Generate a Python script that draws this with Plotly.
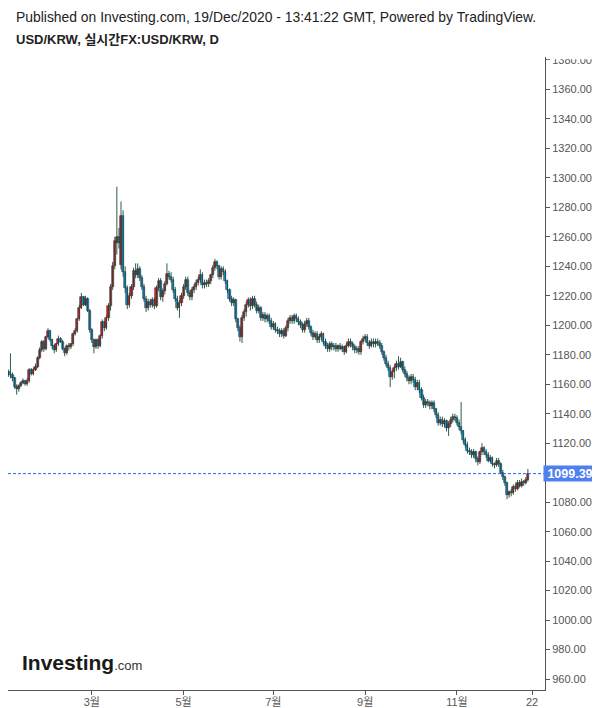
import pandas as pd
import plotly.graph_objects as go

# ---- data: USD/KRW daily candles, 6 Jan 2020 .. 18 Dec 2020 (weekdays) ----
dates = pd.bdate_range("2020-01-06", "2020-12-18")

opens = [
    1166,1168,1166,1164,1158, 1157,1159,1161,1162,1160, 1162,1170,1167,1170,1172, 1178,1183,1189,1184,1192,
    1196,1190,1186,1183,1187, 1191,1189,1184,1181,1186, 1185,1187,1194,1196,1204, 1212,1219,1214,1218,1210,
    1197,1190,1185,1190,1186, 1193,1202,1198,1205,1213, 1226,1240,1256,1260,1241, 1274,1236,1225,1214,1220,
    1226,1237,1234,1238,1232, 1226,1218,1212,1216,1214, 1217,1213,1225,1230,1219, 1223,1228,1235,1233,1231,
    1224,1218,1212,1215,1220, 1226,1231,1222,1219,1224, 1226,1229,1231,1234,1227, 1229,1228,1230,1234,1239,
    1243,1240,1233,1238,1236, 1230,1224,1218,1215,1217, 1204,1198,1192,1205,1209, 1214,1217,1213,1218,1214,
    1210,1212,1205,1207,1204, 1206,1203,1199,1201,1197, 1196,1194,1196,1193,1198, 1203,1205,1203,1206,1204,
    1202,1200,1197,1201,1203, 1199,1195,1192,1194,1190, 1192,1194,1189,1186,1184, 1187,1185,1186,1184,1186,
    1184,1185,1182,1186,1189, 1187,1185,1183,1184,1182, 1189,1191,1192,1188,1186, 1189,1187,1189,1188,1186,
    1182,1178,1174,1171,1165, 1168,1171,1174,1172,1175, 1170,1167,1164,1162,1165, 1163,1158,1161,1156,1151,
    1146,1148,1147,1145,1147, 1143,1139,1134,1136,1133, 1135,1130,1133,1136,1138, 1137,1134,1131,1128,1122,
    1119,1115,1114,1112,1114, 1109,1107,1114,1117,1114, 1112,1108,1110,1106,1105, 1108,1106,1100,1097,1093,
    1085,1087,1086,1090,1089, 1093,1091,1094,1093,1095,
]
highs = [
    1170,1181,1168,1165,1160, 1160,1162,1164,1163,1164, 1171,1171,1171,1174,1179, 1185,1190,1190,1193,1198,
    1197,1191,1187,1188,1193, 1192,1190,1185,1187,1188, 1188,1195,1198,1205,1214, 1222,1220,1220,1219,1211,
    1198,1191,1191,1191,1194, 1204,1203,1207,1215,1228, 1243,1260,1294,1266,1284, 1278,1240,1227,1222,1228,
    1239,1242,1242,1240,1234, 1228,1220,1218,1218,1219, 1219,1227,1232,1232,1225, 1230,1242,1237,1236,1233,
    1226,1220,1217,1222,1228, 1233,1233,1224,1226,1228, 1231,1233,1238,1236,1231, 1231,1232,1235,1241,1245,
    1244,1241,1240,1240,1238, 1231,1225,1220,1219,1218, 1205,1200,1207,1211,1216, 1219,1219,1220,1220,1216,
    1214,1213,1209,1209,1208, 1208,1205,1203,1202,1199, 1198,1198,1198,1200,1205, 1207,1207,1208,1208,1206,
    1204,1202,1203,1205,1205, 1200,1197,1196,1196,1194, 1196,1195,1191,1188,1189, 1189,1188,1188,1187,1188,
    1187,1186,1188,1191,1191, 1189,1187,1186,1186,1190, 1193,1194,1194,1190,1191, 1191,1191,1191,1190,1188,
    1183,1180,1176,1173,1170, 1173,1176,1179,1178,1176, 1172,1169,1166,1167,1167, 1165,1163,1163,1158,1153,
    1150,1150,1149,1149,1149, 1144,1141,1138,1138,1137, 1136,1135,1138,1140,1140, 1139,1136,1148,1129,1124,
    1121,1117,1116,1116,1115, 1111,1115,1120,1118,1116, 1114,1112,1111,1107,1110, 1110,1107,1102,1098,1094,
    1088,1089,1092,1092,1095, 1095,1096,1095,1097,1102.5,
]
lows = [
    1165,1164,1162,1157,1153, 1155,1158,1160,1159,1159, 1161,1166,1166,1169,1171, 1177,1182,1182,1183,1191,
    1189,1184,1181,1182,1186, 1188,1183,1179,1180,1183, 1184,1186,1193,1195,1203, 1211,1213,1213,1209,1195,
    1188,1181,1184,1184,1185, 1191,1196,1197,1203,1210, 1224,1238,1248,1252,1238, 1233,1222,1211,1212,1218,
    1224,1232,1232,1230,1224, 1216,1209,1210,1212,1212, 1211,1212,1223,1217,1216, 1221,1227,1231,1229,1222,
    1216,1210,1205,1213,1218, 1224,1220,1217,1217,1222, 1224,1227,1229,1225,1225, 1226,1226,1228,1232,1237,
    1238,1231,1231,1234,1228, 1222,1216,1213,1213,1202, 1196,1189,1188,1203,1206, 1212,1210,1211,1212,1208,
    1208,1203,1203,1202,1202, 1201,1197,1197,1195,1194, 1192,1192,1191,1192,1196, 1201,1201,1201,1202,1200,
    1198,1195,1195,1199,1197, 1193,1190,1191,1188,1188, 1190,1187,1184,1182,1182, 1183,1183,1182,1182,1183,
    1182,1180,1181,1185,1185, 1183,1181,1181,1180,1180, 1187,1189,1186,1184,1185, 1185,1185,1186,1184,1180,
    1176,1172,1169,1158,1163, 1164,1169,1170,1171,1168, 1165,1162,1160,1160,1161, 1156,1156,1154,1149,1144,
    1144,1145,1143,1143,1141, 1137,1132,1132,1131,1131, 1128,1125,1131,1134,1135, 1132,1129,1126,1120,1117,
    1113,1112,1110,1110,1107, 1105,1106,1112,1112,1110, 1107,1107,1104,1103,1104, 1104,1099,1095,1091,1082,
    1083,1084,1085,1087,1088, 1090,1090,1091,1092,1094,
]
closes = [
    1168,1166,1164,1158,1157, 1159,1161,1162,1160,1162, 1170,1167,1170,1172,1178, 1183,1189,1184,1192,1196,
    1190,1186,1183,1187,1191, 1189,1184,1181,1186,1185, 1187,1194,1196,1204,1212, 1219,1214,1218,1210,1197,
    1190,1185,1190,1186,1193, 1202,1198,1205,1213,1226, 1240,1257,1260,1256,1274, 1236,1225,1214,1220,1226,
    1237,1234,1238,1232,1226, 1218,1212,1216,1214,1217, 1213,1225,1230,1219,1223, 1228,1235,1233,1231,1224,
    1218,1212,1215,1220,1226, 1231,1222,1219,1224,1226, 1229,1231,1234,1227,1229, 1228,1230,1234,1239,1243,
    1240,1233,1238,1236,1230, 1224,1218,1215,1217,1204, 1198,1192,1205,1209,1214, 1217,1213,1218,1214,1210,
    1212,1205,1207,1204,1206, 1203,1199,1201,1197,1196, 1194,1196,1193,1198,1203, 1205,1203,1206,1204,1202,
    1200,1197,1201,1203,1199, 1195,1192,1194,1190,1192, 1194,1189,1186,1184,1187, 1185,1186,1184,1186,1184,
    1185,1182,1186,1189,1187, 1185,1183,1184,1182,1189, 1191,1192,1188,1186,1189, 1187,1189,1188,1186,1182,
    1178,1174,1171,1165,1168, 1171,1174,1172,1175,1170, 1167,1164,1162,1165,1163, 1158,1161,1156,1151,1146,
    1148,1147,1145,1147,1143, 1139,1134,1136,1133,1135, 1130,1133,1136,1138,1137, 1134,1131,1128,1122,1119,
    1115,1114,1112,1114,1109, 1107,1114,1117,1114,1112, 1108,1110,1106,1105,1108, 1106,1100,1097,1093,1085,
    1087,1086,1090,1089,1093, 1091,1094,1093,1095,1099.39,
]

last_price = closes[-1]
tick_dates = ["2020-03-02", "2020-05-01", "2020-07-01", "2020-09-01", "2020-11-02", "2020-12-22"]
tick_text = ["3월", "5월", "7월", "9월", "11월", "22"]
# 1100.00 sits under the last-price tag, so it is left out
y_ticks = [960, 980, 1000, 1020, 1040, 1060, 1080, 1120, 1140, 1160, 1180, 1200, 1220,
           1240, 1260, 1280, 1300, 1320, 1340, 1360, 1380]

# bar positions: index of each trading day on a continuous (weekend-free) scale
all_days = pd.bdate_range("2020-01-06", "2020-12-31")
pos = {d: i for i, d in enumerate(all_days)}
xs = [pos[d] for d in dates]
tick_pos = [pos[pd.Timestamp(t)] for t in tick_dates]

FONT = "Liberation Sans, Arial, Noto Sans CJK KR, sans-serif"
UP, DOWN, EDGE, WICK = "#ff1010", "#119cff", "#22304a", "#184a2e"

# wicks (thin green lines behind the bodies)
wx, wy = [], []
for x, h, l in zip(xs, highs, lows):
    wx += [x, x, None]
    wy += [l, h, None]

body_base = [min(o, c) for o, c in zip(opens, closes)]
body_len = [abs(c - o) for o, c in zip(opens, closes)]
body_col = [UP if c >= o else DOWN for o, c in zip(opens, closes)]

fig = go.Figure()
fig.add_trace(go.Scatter(x=wx, y=wy, mode="lines", line=dict(color=WICK, width=0.9),
                         hoverinfo="skip", showlegend=False))
fig.add_trace(go.Bar(x=xs, y=body_len, base=body_base, width=1.0,
                     marker=dict(color=body_col, line=dict(color=EDGE, width=0.6)),
                     showlegend=False))

fig.add_shape(type="line", xref="paper", x0=0, x1=1, yref="y", y0=last_price, y1=last_price,
              line=dict(color="#2563ff", width=1, dash="3px,2px"), layer="above")
# mask the top label half, as clipped in the reference
fig.add_shape(type="rect", xref="paper", x0=1.004, x1=1.12, yref="paper", y0=0.9965, y1=1.08,
              fillcolor="white", line=dict(width=0), layer="above")

fig.add_annotation(x=1, xref="paper", xanchor="left", xshift=-2, y=last_price, yref="y", yanchor="middle",
                   text="<b>%.2f</b>" % last_price, showarrow=False,
                   font=dict(family=FONT, size=12.5, color="white"),
                   bgcolor="#4f80f0", borderpad=1, width=50, height=13, align="center")

fig.add_annotation(x=0.0112, xref="paper", xanchor="left", y=1.0632, yref="paper", yanchor="middle",
                   text="Published on Investing.com, 19/Dec/2020 - 13:41:22 GMT, Powered by TradingView.",
                   showarrow=False, font=dict(family=FONT, size=13.9, color="#222"))
fig.add_annotation(x=0.0112, xref="paper", xanchor="left", y=1.0269, yref="paper", yanchor="middle",
                   text="<b>USD/KRW, 실시간FX:USD/KRW, D</b>",
                   showarrow=False, font=dict(family=FONT, size=13, color="#222"))
fig.add_annotation(x=0.0223, xref="paper", xanchor="left", y=0.0442, yref="paper", yanchor="middle",
                   text="<b>Investing</b><span style='font-size:13px;color:#333'>.com</span>",
                   showarrow=False, font=dict(family=FONT, size=21, color="#1a1a1a"))

# the page body adds an 8px offset, so the figure is 592x700 and starts at (8, 8)
fig.update_layout(
    width=592, height=700,
    margin=dict(l=0, r=55, t=49, b=18, autoexpand=False),
    paper_bgcolor="white", plot_bgcolor="white",
    showlegend=False, bargap=0,
    xaxis=dict(
        range=[-0.17, 257.2],
        showgrid=False, zeroline=False, automargin=False,
        showline=True, linecolor="#555", linewidth=1,
        ticks="outside", ticklen=4, tickcolor="#555",
        tickvals=tick_pos, ticktext=tick_text,
        ticklabelstandoff=-2,
        tickfont=dict(family=FONT, size=11, color="#555"),
    ),
    yaxis=dict(
        side="right",
        range=[952.6, 1382.0],
        tickvals=y_ticks, tickformat=".2f",
        showgrid=False, zeroline=False, automargin=False,
        showline=True, linecolor="#555", linewidth=1,
        ticks="outside", ticklen=4, tickcolor="#555",
        tickfont=dict(family=FONT, size=11, color="#555"),
    ),
)

fig.write_html("out.html")
